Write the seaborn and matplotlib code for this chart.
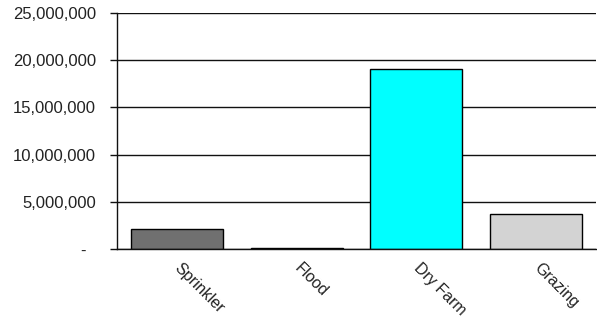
import matplotlib
matplotlib.use("Agg")
import matplotlib.pyplot as plt
import seaborn as sns
import pandas as pd
import numpy as np
from matplotlib.ticker import FixedLocator

categories = ["Sprinkler", "Flood", "Dry Farm", "Grazing"]
values = [2150000, 60000, 19100000, 3750000]
bar_colors = ["#707070", "#202020", "#00FFFF", "#D3D3D3"]
ytick_values = [0, 5000000, 10000000, 15000000, 20000000, 25000000]
ytick_labels = ["-  ", "5,000,000", "10,000,000", "15,000,000", "20,000,000", "25,000,000"]

df = pd.DataFrame({"cat": categories, "val": values})

sns.set_style("white")
plt.rcParams["font.family"] = ["Liberation Sans", "DejaVu Sans"]

fig = plt.figure(figsize=(5.97, 3.23), dpi=100)
ax = fig.add_axes([117/597, 1 - 249/323, (596 - 117)/597, (249 - 13)/323])

sns.barplot(data=df, x="cat", y="val", hue="cat", palette=bar_colors,
            edgecolor="black", linewidth=1.0, width=0.77, legend=False,
            saturation=1, ax=ax)

ax.set_ylim(0, 25000000)
ax.set_xlim(-0.5, 3.5)
ax.set_yticks(ytick_values)
ax.set_yticklabels(ytick_labels, fontsize=12, color="#222222")
ax.yaxis.grid(True, color="#111111", linewidth=1.0)
ax.set_axisbelow(True)

# label anchors nudged slightly right of each category centre
ax.set_xticks(np.arange(len(categories)) + 0.045)
ax.set_xticklabels(categories, rotation=-45, ha="left", va="top",
                   rotation_mode="anchor", fontsize=11.5, color="#222222")
ax.xaxis.set_minor_locator(FixedLocator([-0.5, 0.5, 1.5, 2.5, 3.5]))
ax.tick_params(axis="x", which="major", length=0, pad=8)
ax.tick_params(axis="x", which="minor", length=5, width=1, color="#111111", direction="out")
ax.tick_params(axis="y", which="major", length=5, width=1, color="#111111",
               direction="out", left=True, pad=10)
ax.set_xlabel("")
ax.set_ylabel("")

for s in ["top", "right"]:
    ax.spines[s].set_visible(False)
for s in ["left", "bottom"]:
    ax.spines[s].set_visible(True)
    ax.spines[s].set_color("#111111")
    ax.spines[s].set_linewidth(1.0)

fig.savefig("out.png", dpi=100)
